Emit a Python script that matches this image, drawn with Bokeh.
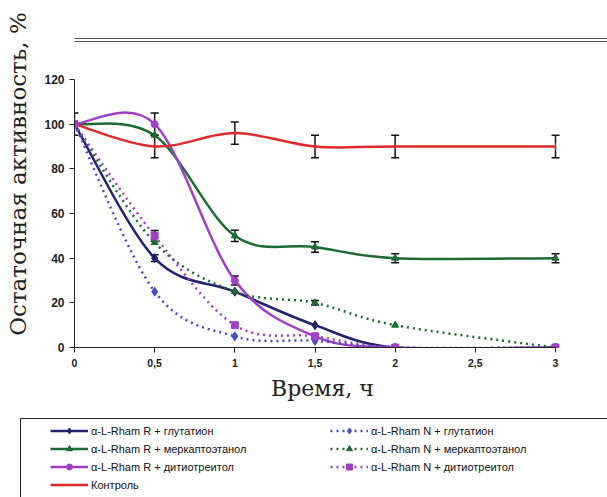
import math
from bokeh.plotting import figure
from bokeh.models import (Legend, LegendItem, Whisker, ColumnDataSource,
                          Range1d, FixedTicker, TeeHead)
from bokeh.layouts import column
from bokeh.embed import file_html
from bokeh.resources import INLINE

# ---------------- data ----------------
time = [0, 0.5, 1, 1.5, 2, 3]
r_glut = [100, 40, 25, 10, 0, 0]
n_glut = [100, 25, 5, 3, 0, 0]
r_merc = [100, 95, 50, 45, 40, 40]
n_merc = [100, 47, 25, 20, 10, 0]
r_dtt = [100, 100, 30, 5, 0, 0]
n_dtt = [100, 50, 10, 5, 0, 0]
control = [100, 90, 96, 90, 90, 90]

x_ticks = [0, 0.5, 1, 1.5, 2, 2.5, 3]
x_tick_labels = ["0", "0,5", "1", "1,5", "2", "2,5", "3"]
y_ticks = [0, 20, 40, 60, 80, 100, 120]

# error bars (x, y, +/-)
err_x = [0, 0.5, 1, 1.5, 2, 3,      1, 1.5, 2, 3,    0.5,   1,    0.5,  1.5, 0.5]
err_y = [100, 90, 96, 90, 90, 90,   50, 45, 40, 40,  40,    30,   50,   20,  100]
err_d = [5, 5, 5, 5, 5, 5,          2.5, 2.3, 2, 2,  1.5,   2,    2.4,  1,   5]

names = ["α-L-Rham R + глутатион", "α-L-Rham R + меркаптоэтанол",
         "α-L-Rham R + дитиотреитол", "Контроль",
         "α-L-Rham N + глутатион", "α-L-Rham N + меркаптоэтанол",
         "α-L-Rham N + дитиотреитол"]

NAVY = "#22226e"
BLUE = "#4a4ac4"
GREEN = "#1d6b33"
PURPLE = "#a040c4"
RED = "#dd2a2a"

series = [
    (r_glut, NAVY, "solid", "diamond", 9),
    (r_merc, GREEN, "solid", "triangle", 7),
    (r_dtt, PURPLE, "solid", "circle", 7),
    (control, RED, "solid", "dash", 7),
    (n_glut, BLUE, "2 4", "diamond", 9),
    (n_merc, GREEN, "2 4", "triangle", 7),
    (n_dtt, PURPLE, "2 4", "square", 7),
]

# ---------------- main chart ----------------
PX_PER_X = 481 / 3.0      # 0..3 over 481 px
PX_PER_Y = 268 / 120.0    # 0..120 over 268 px
FRAME_W = 607 - 74
FRAME_H = 347
P_H = 372

p = figure(width=607, height=P_H, output_backend="svg", toolbar_location=None,
           x_range=Range1d(0, FRAME_W / PX_PER_X),
           y_range=Range1d(0, FRAME_H / PX_PER_Y),
           min_border_left=74, min_border_right=0, min_border_top=0,
           min_border_bottom=P_H - FRAME_H)
p.frame_align = False
p.outline_line_color = None
p.grid.visible = False


def smooth(xs, ys):
    n = len(xs)
    d = dict(x0=[], y0=[], x1=[], y1=[], cx0=[], cy0=[], cx1=[], cy1=[])
    for i in range(n - 1):
        xa, ya = (xs[i - 1], ys[i - 1]) if i > 0 else (xs[i], ys[i])
        xd, yd = (xs[i + 2], ys[i + 2]) if i + 2 < n else (xs[i + 1], ys[i + 1])
        d["x0"].append(xs[i]); d["y0"].append(ys[i])
        d["x1"].append(xs[i + 1]); d["y1"].append(ys[i + 1])
        d["cx0"].append(xs[i] + (xs[i + 1] - xa) / 6)
        d["cy0"].append(ys[i] + (ys[i + 1] - ya) / 6)
        d["cx1"].append(xs[i + 1] - (xd - xs[i]) / 6)
        d["cy1"].append(ys[i + 1] - (yd - ys[i]) / 6)
    return ColumnDataSource(d)


for ys, col, dash, mk, sz in series:
    p.bezier(x0="x0", y0="y0", x1="x1", y1="y1", cx0="cx0", cy0="cy0",
             cx1="cx1", cy1="cy1", source=smooth(time, ys), line_color=col,
             line_width=2.5, line_dash=dash)
    kw = dict(angle=math.pi / 2) if mk == "dash" else {}
    p.scatter(x=time, y=ys, marker=mk, size=sz, fill_color=col,
              line_color=col, **kw)

esrc = ColumnDataSource(dict(x=err_x,
                             lo=[a - b for a, b in zip(err_y, err_d)],
                             hi=[a + b for a, b in zip(err_y, err_d)]))
p.add_layout(Whisker(base="x", lower="lo", upper="hi", source=esrc,
                     dimension="height", line_color="#111111", line_width=1.5,
                     upper_head=TeeHead(size=8, line_color="#111111", line_width=1.5),
                     lower_head=TeeHead(size=8, line_color="#111111", line_width=1.5)))

# header double rule (page decoration)
rule_y1 = (FRAME_H - 38) / PX_PER_Y
rule_y2 = (FRAME_H - 41) / PX_PER_Y
p.line(x=[-1, 10], y=[rule_y1, rule_y1], line_color="#555555", line_width=1)
p.line(x=[-1, 10], y=[rule_y2, rule_y2], line_color="#555555", line_width=1)

# axes
p.xaxis.ticker = FixedTicker(ticks=x_ticks)
p.xaxis.major_label_overrides = {t: l for t, l in zip(x_ticks, x_tick_labels)}
p.xaxis.bounds = (0, 3)
p.yaxis.ticker = FixedTicker(ticks=y_ticks)
p.yaxis.bounds = (0, 120)
for ax in (p.xaxis[0], p.yaxis[0]):
    ax.axis_line_color = "#222222"
    ax.major_tick_line_color = "#222222"
    ax.major_tick_in = 0
    ax.major_tick_out = 5
    ax.minor_tick_line_color = None
    ax.major_label_text_font = "Liberation Sans"
    ax.major_label_text_font_style = "bold"
    ax.major_label_text_color = "#222222"
p.xaxis.major_label_text_font_size = "10.5px"
p.yaxis.major_label_text_font_size = "12px"
p.xaxis.major_label_standoff = 6
p.yaxis.major_label_standoff = 5
p.yaxis.axis_label = "Остаточная активность, %"
p.yaxis.axis_label_standoff = 10
p.yaxis.axis_label_text_font = "DejaVu Serif"
p.yaxis.axis_label_text_font_style = "normal"
p.yaxis.axis_label_text_font_size = "23px"
p.yaxis.axis_label_text_color = "#222222"

# ---------------- x-axis title strip ----------------
R_H = 410 - P_H
r = figure(width=607, height=R_H, output_backend="svg", toolbar_location=None,
           x_range=Range1d(0, 3), y_range=Range1d(0, 1),
           min_border_left=74, min_border_right=37, min_border_top=0,
           min_border_bottom=0, x_axis_location="above", y_axis_location=None)
r.frame_align = False
r.outline_line_color = None
r.grid.visible = False
r.xaxis.ticker = FixedTicker(ticks=[])
r.xaxis.axis_line_color = None
r.xaxis.major_tick_line_color = None
r.xaxis.minor_tick_line_color = None
r.xaxis.major_tick_out = 0
r.xaxis.major_label_standoff = 0
r.xaxis.axis_label = "Время, ч"
r.xaxis.axis_label_standoff = 0
r.xaxis.axis_label_text_font = "DejaVu Serif"
r.xaxis.axis_label_text_font_style = "normal"
r.xaxis.axis_label_text_font_size = "22px"
r.xaxis.axis_label_text_color = "#222222"

# ---------------- legend panel ----------------
L_H = 497 - 410
q = figure(width=607, height=L_H, output_backend="svg", toolbar_location=None,
           x_range=Range1d(0, 607), y_range=Range1d(L_H, 0),
           min_border=0, x_axis_location=None, y_axis_location=None)
q.frame_align = False
q.outline_line_color = None
q.grid.visible = False
box_top = 418 - 410
q.line(x=[20, 20, 700], y=[L_H + 20, box_top, box_top], line_color="#222222",
       line_width=1)

items = []
for (ys, col, dash, mk, sz), name in zip(series, names):
    # off-frame placeholders so the legend can draw each series' style
    ln = q.line(x=[-900, -800], y=[-50, -50], line_color=col, line_width=2.5,
                line_dash=dash)
    kw = dict(angle=math.pi / 2) if mk == "dash" else {}
    sc = q.scatter(x=[-900], y=[-50], marker=mk, size=sz, fill_color=col,
                   line_color=col, **kw)
    items.append(LegendItem(label=name, renderers=[ln, sc]))

common = dict(orientation="vertical", glyph_width=38, glyph_height=15,
              label_height=15, spacing=3, padding=0, margin=0,
              border_line_color=None, background_fill_alpha=0,
              label_text_font="Liberation Sans", label_text_font_size="11px",
              label_standoff=3, label_text_color="#111111")
top_local = 423 - 410
h1 = 4 * 15 + 3 * 3
h2 = 3 * 15 + 2 * 3
leg1 = Legend(items=items[:4], location=(50, L_H - top_local - h1), **common)
leg2 = Legend(items=items[4:], location=(330, L_H - top_local - h2), **common)
q.add_layout(leg1)
q.add_layout(leg2)

layout = column(p, r, q, spacing=0)
open("out.html", "w").write(file_html(layout, INLINE))
